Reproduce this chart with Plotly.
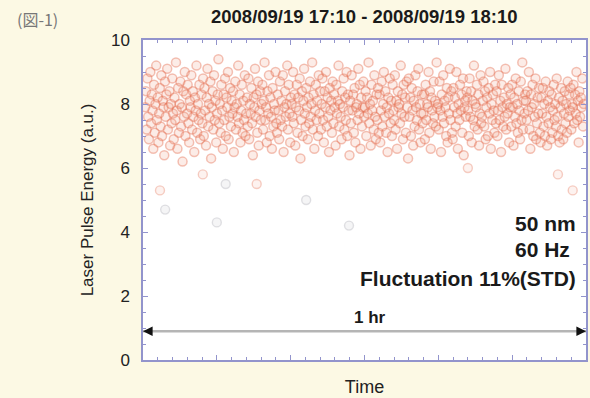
import numpy as np
import plotly.graph_objects as go

# Pulse energy samples (a.u.), left to right
energy = [
    7.9, 8.4, 7.2, 8.8, 7.6, 6.9, 8.1, 9.0, 7.4, 8.3, 7.8, 6.6, 8.6, 7.1, 8.0, 9.2, 7.5, 8.2, 6.8, 7.7,
    8.5, 7.3, 8.9, 7.0, 8.1, 7.9, 6.4, 8.7, 7.6, 8.3, 9.1, 7.2, 7.9, 8.4, 6.7, 8.0, 7.4, 8.8, 7.7, 6.9,
    8.2, 7.5, 9.3, 7.8, 6.6, 8.5, 7.1, 8.0, 8.7, 7.3, 7.9, 6.2, 8.4, 7.6, 9.0, 7.0, 8.3, 7.7, 8.6, 7.4,
    6.8, 8.1, 7.9, 8.9, 7.2, 8.4, 7.6, 6.5, 8.2, 7.8, 9.2, 7.1, 8.0, 7.5, 8.6, 6.9, 7.7, 8.3, 7.4, 8.8,
    7.0, 8.5, 7.8, 6.7, 8.2, 9.1, 7.3, 8.0, 7.6, 8.7, 6.3, 7.9, 8.4, 7.2, 8.9, 7.5, 8.1, 6.8, 7.7, 8.3,
    9.4, 7.4, 8.0, 7.1, 8.6, 7.8, 6.6, 8.3, 7.5, 8.8, 7.0, 8.2, 7.9, 9.0, 6.9, 7.6, 8.5, 7.3, 8.1, 7.7,
    8.4, 6.5, 7.9, 8.7, 7.2, 8.0, 7.6, 9.2, 7.4, 8.3, 6.8, 7.8, 8.6, 7.1, 8.1, 7.5, 8.9, 7.0, 7.7, 8.2,
    7.3, 8.8, 6.9, 8.0, 7.7, 8.5, 7.4, 6.4, 8.2, 7.9, 9.1, 7.6, 8.3, 7.1, 8.7, 6.7, 7.8, 8.4, 7.5, 8.0,
    8.6, 7.2, 8.1, 9.3, 7.5, 7.9, 6.8, 8.4, 7.7, 8.9, 7.0, 8.2, 7.6, 6.6, 8.5, 7.3, 8.0, 7.8, 9.0, 7.4,
    7.1, 8.3, 7.8, 6.9, 8.7, 7.5, 8.1, 7.3, 8.9, 6.5, 7.9, 8.4, 7.6, 8.0, 9.2, 7.2, 8.6, 7.7, 6.8, 8.2,
    8.0, 7.6, 9.0, 7.4, 8.3, 6.7, 7.9, 8.6, 7.1, 8.2, 7.8, 8.8, 6.3, 7.5, 8.4, 7.0, 8.1, 9.1, 7.7, 7.3,
    8.5, 7.9, 6.9, 8.2, 7.4, 8.7, 7.6, 8.0, 9.3, 7.2, 8.3, 6.6, 7.8, 8.6, 7.5, 8.1, 7.0, 8.9, 7.7, 8.4,
    7.2, 8.0, 8.8, 7.5, 6.8, 8.4, 7.9, 9.0, 7.3, 8.2, 7.6, 6.5, 8.5, 7.8, 8.1, 7.1, 8.7, 7.4, 8.3, 7.9,
    6.7, 8.6, 7.7, 8.1, 9.2, 7.3, 8.0, 7.6, 6.9, 8.4, 7.9, 8.8, 7.2, 8.2, 7.5, 9.0, 7.0, 8.3, 7.8, 6.4,
    8.1, 7.4, 8.9, 7.8, 8.3, 7.1, 8.5, 6.8, 7.9, 8.0, 7.5, 9.1, 7.7, 8.6, 6.6, 8.2, 7.3, 7.9, 8.7, 7.6,
    7.9, 8.4, 7.0, 8.2, 7.7, 9.3, 7.4, 8.0, 6.7, 8.6, 7.8, 8.1, 7.2, 8.9, 7.6, 6.9, 8.3, 7.5, 8.5, 7.1,
    8.3, 6.8, 7.8, 8.7, 7.3, 8.0, 9.0, 7.6, 8.4, 7.1, 7.9, 6.5, 8.2, 7.7, 8.8, 7.4, 8.1, 7.0, 8.6, 7.8,
    7.5, 8.9, 7.2, 8.1, 6.6, 8.4, 7.9, 8.0, 7.4, 9.2, 7.7, 8.3, 6.9, 8.6, 7.6, 8.2, 7.1, 8.7, 7.9, 6.3,
    8.8, 7.6, 8.2, 7.0, 8.5, 7.8, 6.7, 8.1, 7.3, 8.9, 7.9, 7.5, 8.4, 9.1, 7.2, 8.0, 6.8, 7.7, 8.3, 7.4,
    7.7, 8.3, 6.9, 8.6, 7.5, 8.0, 7.9, 9.0, 7.1, 8.4, 6.6, 8.2, 7.8, 7.4, 8.7, 7.6, 8.1, 7.3, 9.3, 7.9,
    8.0, 7.2, 8.7, 7.8, 6.5, 8.3, 7.6, 8.9, 7.4, 8.1, 7.9, 7.0, 8.5, 6.8, 8.2, 7.7, 9.1, 7.5, 8.4, 7.1,
    6.9, 8.5, 7.9, 8.2, 7.3, 9.0, 7.7, 6.6, 8.0, 7.5, 8.6, 7.8, 8.3, 7.1, 8.8, 6.4, 7.9, 8.1, 7.6, 8.4,
    8.2, 7.8, 7.0, 8.8, 7.6, 8.4, 6.8, 8.1, 7.5, 9.2, 7.3, 8.0, 7.9, 8.6, 7.2, 8.3, 6.7, 7.7, 8.9, 7.4,
    7.6, 8.1, 8.7, 7.3, 8.4, 6.9, 7.9, 8.2, 7.0, 8.5, 7.7, 9.0, 6.6, 8.0, 7.5, 8.3, 7.8, 7.1, 8.6, 7.4,
    8.4, 7.0, 7.8, 8.9, 7.5, 8.1, 6.5, 8.6, 7.9, 7.3, 8.2, 7.6, 9.1, 7.2, 8.0, 7.7, 8.5, 6.8, 7.9, 8.3,
    7.3, 8.6, 7.9, 6.7, 8.2, 7.6, 8.8, 7.4, 8.0, 7.1, 8.4, 7.8, 6.9, 8.7, 7.5, 9.3, 7.2, 8.1, 7.7, 8.3,
    8.1, 7.5, 8.4, 7.8, 9.0, 7.2, 6.6, 8.3, 7.9, 8.6, 7.0, 8.0, 7.6, 8.8, 6.9, 7.4, 8.2, 7.7, 8.5, 7.1,
    6.8, 8.2, 7.7, 8.5, 7.3, 8.0, 7.0, 8.7, 7.6, 6.7, 8.1, 7.4, 8.4, 7.9, 6.9, 8.3, 7.1, 7.8, 8.6, 7.5,
    8.0, 7.3, 8.8, 7.6, 7.0, 8.2, 6.8, 7.9, 8.5, 7.2, 8.1, 6.9, 7.7, 8.4, 7.4, 8.0, 7.1, 8.7, 7.6, 8.3,
    7.8, 8.5, 7.2, 8.0, 7.9, 8.6, 7.4, 8.3, 7.7, 9.0, 7.5, 8.1, 6.8, 8.4, 7.6, 8.2, 7.9, 8.8, 7.3, 8.0,
]

# Sparse low outliers (minutes, energy)
low_time = [2.3, 8.1, 15.4, 44.0, 56.2, 58.2]
low_energy = [5.3, 5.8, 5.5, 6.0, 5.8, 5.3]
grey_time = [3.0, 10.0, 11.2, 22.1, 27.9]
grey_energy = [4.7, 4.3, 5.5, 5.0, 4.2]

title = "2008/09/19 17:10 - 2008/09/19 18:10"
notes = ["50 nm", "60 Hz ", "Fluctuation 11%(STD)"]
note_y = [4.28, 3.45, 2.56]

time = np.linspace(0.3, 59.7, len(energy))

axis_col = "#9294cc"
font = "Liberation Sans, Arial, sans-serif"

fig = go.Figure()
fig.add_trace(go.Scatter(
    x=time, y=energy, mode="markers",
    marker=dict(symbol="circle", size=9, color="rgba(240,150,120,0.18)",
                line=dict(width=1.5, color="rgba(228,105,75,0.40)")),
    hoverinfo="skip", showlegend=False))
fig.add_trace(go.Scatter(
    x=low_time, y=low_energy, mode="markers",
    marker=dict(symbol="circle", size=9, color="rgba(240,150,120,0.12)",
                line=dict(width=1.4, color="rgba(228,105,75,0.32)")),
    hoverinfo="skip", showlegend=False))
fig.add_trace(go.Scatter(
    x=grey_time, y=grey_energy, mode="markers",
    marker=dict(symbol="circle", size=9, color="rgba(170,170,180,0.12)",
                line=dict(width=1.4, color="rgba(150,150,160,0.28)")),
    hoverinfo="skip", showlegend=False))

# 1 hr double arrow
fig.add_shape(type="line", x0=0, x1=60, y0=0.9, y1=0.9,
              line=dict(color="#b5b5b5", width=2.5))
for xe, xs in [(0, 1.2), (60, 58.8)]:
    fig.add_annotation(x=xe, y=0.9, ax=xs, ay=0.9, axref="x", ayref="y",
                       xref="x", yref="y", showarrow=True, arrowhead=2,
                       arrowsize=1.2, arrowwidth=1.6, arrowcolor="#111", text="")
fig.add_annotation(x=30.7, y=1.32, text="<b>1 hr</b>", showarrow=False,
                   xanchor="center", font=dict(size=17, color="#1a1a1a", family=font))

for t, yv in zip(notes, note_y):
    fig.add_annotation(x=58.9, y=yv, text=f"<b>{t}</b>", showarrow=False,
                       xanchor="right", yanchor="middle",
                       font=dict(size=21, color="#1a1a1a", family=font))

fig.add_annotation(xref="paper", yref="paper", x=0.5, y=1.0, yshift=11,
                   text=f"<b>{title}</b>", showarrow=False, xanchor="center",
                   yanchor="bottom", font=dict(size=18.5, color="#1a1a1a", family=font))
fig.add_annotation(xref="paper", yref="paper", x=-0.29, y=1.0, yshift=7,
                   text="(図-1)", showarrow=False, xanchor="left",
                   yanchor="bottom", font=dict(size=16, color="#777",
                                               family="Noto Sans CJK JP, sans-serif"))

fig.update_layout(
    width=590, height=398,
    margin=dict(l=143, r=2, t=40, b=38),
    paper_bgcolor="#fcf9e4", plot_bgcolor="#ffffff",
    font=dict(family=font, color="#1a1a1a"),
)
fig.update_xaxes(
    range=[0, 60], showgrid=False, zeroline=False, showticklabels=False,
    showline=True, linecolor=axis_col, linewidth=1.5, mirror="allticks",
    ticks="inside", dtick=10, tick0=0, ticklen=5, tickcolor=axis_col,
    minor=dict(dtick=2, ticks="inside", ticklen=3, tickcolor=axis_col),
    title=dict(text="Time", font=dict(size=18, color="#222"), standoff=20),
)
fig.update_yaxes(
    range=[0, 10], showgrid=False, zeroline=False,
    showline=True, linecolor=axis_col, linewidth=1.5, mirror="allticks",
    ticks="inside", dtick=2, tick0=0, ticklen=5, tickcolor=axis_col,
    minor=dict(dtick=0.5, ticks="inside", ticklen=3, tickcolor=axis_col),
    tickfont=dict(size=17, color="#222"), ticklabelstandoff=8,
    title=dict(text="Laser Pulse Energy (a.u.)", font=dict(size=17, color="#222"),
               standoff=13),
)

fig.write_html("out.html", config={"displayModeBar": False},
               post_script="document.body.style.margin='0';")
